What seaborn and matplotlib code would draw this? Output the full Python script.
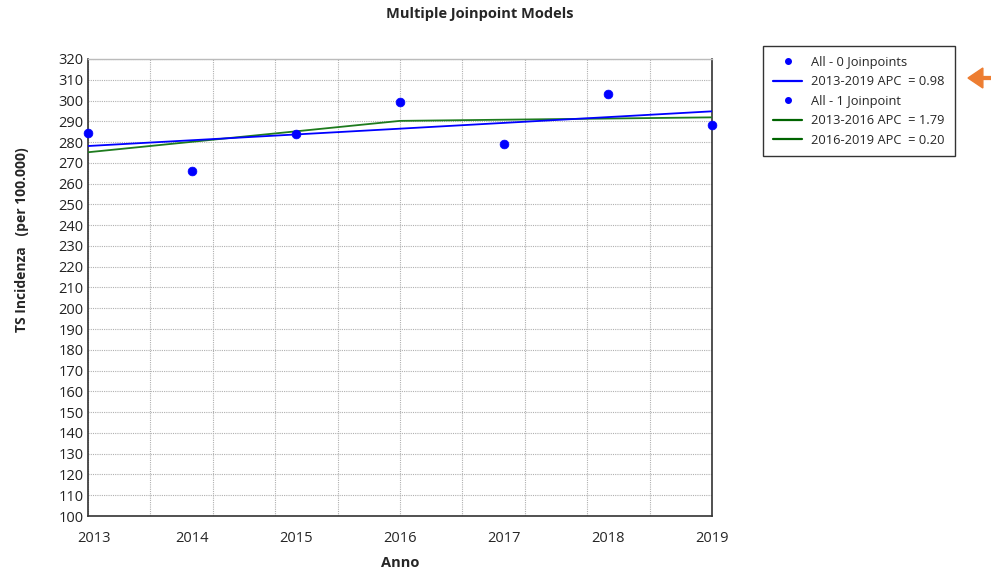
import numpy as np
import pandas as pd
import seaborn as sns
import matplotlib.pyplot as plt
from matplotlib.lines import Line2D
from matplotlib.patches import FancyArrow

# observed rates
years = [2013, 2014, 2015, 2016, 2017, 2018, 2019]
rates = [284.4, 266.1, 284.0, 299.3, 278.9, 303.1, 288.1]

# 0 joinpoint fit (APC 0.98)
fit0_years = [2013, 2019]
fit0_vals = [278.1, 294.8]

# 1 joinpoint fit (2013-2016 APC 1.79, 2016-2019 APC 0.20)
fit1_years = [2013, 2016, 2019]
fit1_vals = [275.1, 290.2, 291.9]

legend_labels = ["All - 0 Joinpoints", "2013-2019 APC  = 0.98",
                 "All - 1 Joinpoint", "2013-2016 APC  = 1.79", "2016-2019 APC  = 0.20"]

sns.set_style("white")
plt.rcParams['font.family'] = ['Open Sans', 'DejaVu Sans']

obs = pd.DataFrame({"Anno": years, "rate": rates})
f0 = pd.DataFrame({"Anno": fit0_years, "fit": fit0_vals})
f1 = pd.DataFrame({"Anno": fit1_years, "fit": fit1_vals})

fig = plt.figure(figsize=(9.91, 5.72), dpi=100)
ax = fig.add_axes([0.0888, 0.0979, 0.6297, 0.799])

blue = "#0000FF"
green = "#1E7B1E"

sns.lineplot(data=f1, x="Anno", y="fit", ax=ax, color=green, lw=1.3, zorder=3)
sns.lineplot(data=f0, x="Anno", y="fit", ax=ax, color=blue, lw=1.3, zorder=4)
sns.scatterplot(data=obs, x="Anno", y="rate", ax=ax, color=blue, s=40,
                edgecolor=blue, zorder=5, clip_on=False)

ax.set_xlim(2013, 2019)
ax.set_ylim(100, 320)
ax.set_yticks(np.arange(100, 321, 10))
ax.set_xticks(np.arange(2013, 2019.01, 0.6))
ax.set_xticklabels([])
ax.tick_params(axis='both', length=0)
ax.tick_params(axis='y', labelsize=10.5, pad=3, labelcolor="#222222")
ax.grid(True, color="#b0b0b0", linestyle=(0, (1, 1)), lw=0.8)

# year labels under the data positions
for yr in years:
    ax.annotate(str(yr), (yr + (0.06 if yr == 2013 else 0), 100),
                xytext=(0, -11), textcoords='offset points',
                ha='center', va='top', fontsize=10.5)

for side in ['left', 'bottom', 'right']:
    ax.spines[side].set_color("#333333")
    ax.spines[side].set_linewidth(1.2)
ax.spines['top'].set_color("#bbbbbb")
ax.spines['top'].set_linewidth(1.0)

ax.set_xlabel("")
ax.set_ylabel("")
fig.text(400 / 991, 1 - 563 / 572, "Anno", ha='center', va='center',
         fontsize=10.5, fontweight='bold')
fig.text(22 / 991, 1 - 240 / 572, "TS Incidenza   (per 100.000)", ha='center',
         va='center', rotation=90, fontsize=10, fontweight='bold')
fig.text(480 / 991, 1 - 14 / 572, "Multiple Joinpoint Models", ha='center',
         va='center', fontsize=10.5, fontweight='bold')

handles = [
    Line2D([], [], ls='none', marker='o', color=blue, ms=4),
    Line2D([], [], color=blue, lw=1.6),
    Line2D([], [], ls='none', marker='o', color=blue, ms=4),
    Line2D([], [], color="#006400", lw=1.6),
    Line2D([], [], color="#006400", lw=1.6),
]
leg = fig.legend(handles, legend_labels, loc='upper left',
                 bbox_to_anchor=(763 / 991, 1 - 46 / 572), fontsize=9.3,
                 frameon=True, fancybox=False, edgecolor='black',
                 handlelength=2.3, labelspacing=0.5, borderpad=0.75,
                 handletextpad=0.7, borderaxespad=0)
leg.get_frame().set_linewidth(1.0)

# orange marker arrow
fig.patches.append(FancyArrow(
    1.0, 1 - 78 / 572, -23 / 991, 0, width=0.005, head_width=0.035,
    head_length=0.015, length_includes_head=True, color="#ED7D31",
    transform=fig.transFigure, figure=fig))

fig.savefig("out.png", dpi=100)
